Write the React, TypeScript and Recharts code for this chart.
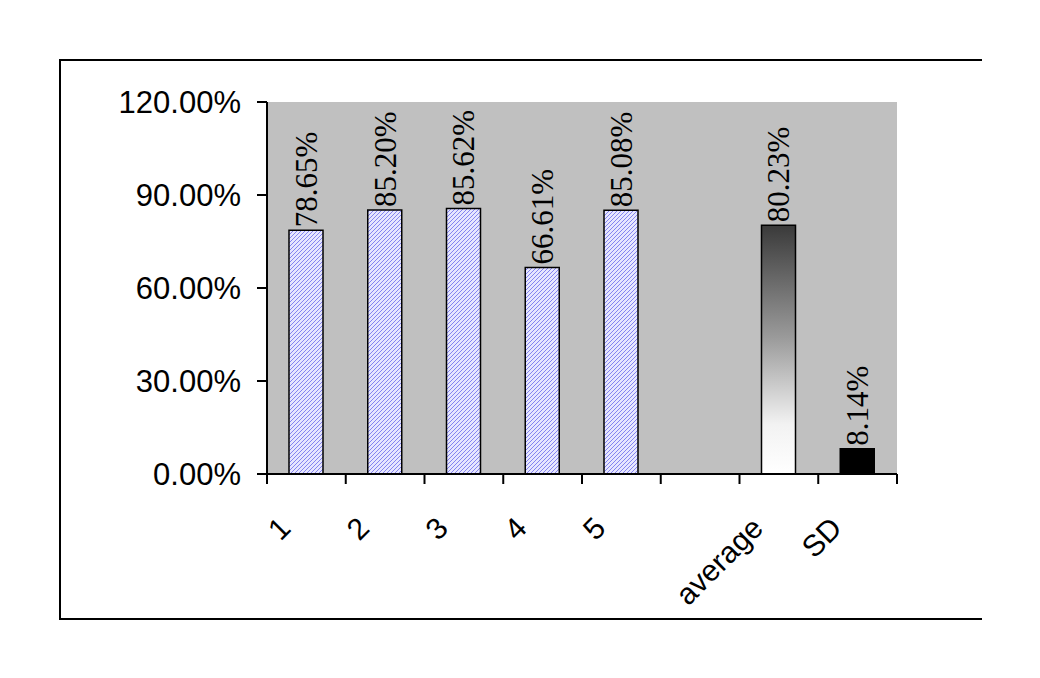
import React from "react";
import {
  BarChart,
  Bar,
  Cell,
  CartesianGrid,
  LabelList,
  XAxis,
  YAxis,
} from "recharts";

// categories along the bottom; the blank one is the gap before the summary bars
const CATEGORIES = ["1", "2", "3", "4", "5", "", "average", "SD"];
// percent values (blank slot has no bar)
const VALUES: (number | null)[] = [78.65, 85.2, 85.62, 66.61, 85.08, null, 80.23, 8.14];
const Y_TICKS = [0, 30, 60, 90, 120];

const data = CATEGORIES.map((name, i) => ({ name, value: VALUES[i] }));

const W = 1040;
const H = 678;
const PLOT_LEFT = 267;
const PLOT_RIGHT = 897;
const PLOT_TOP = 102;
const PLOT_BOTTOM = 474;
const BAND = (PLOT_RIGHT - PLOT_LEFT) / CATEGORIES.length;

const SANS = '"Liberation Sans", Arial, sans-serif';
// no serif face in the sandbox, so the data labels fall back to a sans face
const LABEL_FONT = '"Liberation Serif", "Liberation Sans", Arial, sans-serif';

function fillFor(i: number) {
  if (CATEGORIES[i] === "average") return "url(#avgGrad)";
  if (CATEGORIES[i] === "SD") return "#000000";
  return "url(#hatch)";
}

// tick marks sit on the band boundaries, labels tilted 45° under each band
function XTick(props: any) {
  const { x, y, payload, index } = props;
  const left = x - BAND / 2;
  const isLast = index === CATEGORIES.length - 1;
  const ax = x - 14;
  const ay = y + 56;
  return (
    <g>
      <line x1={left} y1={y} x2={left} y2={y + 10} stroke="#000" strokeWidth={2} />
      {isLast && (
        <line x1={x + BAND / 2} y1={y} x2={x + BAND / 2} y2={y + 10} stroke="#000" strokeWidth={2} />
      )}
      <text
        x={ax}
        y={ay}
        textAnchor="end"
        transform={`rotate(-45, ${ax}, ${ay})`}
        style={{ fontFamily: SANS, fontSize: 30, fill: "#000" }}
      >
        {payload.value}
      </text>
    </g>
  );
}

function ValueLabel(props: any) {
  const { x, y, width, value } = props;
  if (value == null) return null;
  const cx = x + width / 2 + 11;
  const ty = y - 3;
  return (
    <text
      x={cx}
      y={ty}
      textAnchor="start"
      transform={`rotate(-90, ${cx}, ${ty})`}
      style={{ fontFamily: LABEL_FONT, fontSize: 31, fill: "#000" }}
    >
      {`${Number(value).toFixed(2)}%`}
    </text>
  );
}

export default function App() {
  return (
    <div style={{ position: "absolute", left: 0, top: 0, width: W, height: H, background: "#fff" }}>
      <div
        style={{
          position: "absolute",
          left: 59,
          top: 59,
          width: 921,
          height: 557,
          borderTop: "2px solid #000",
          borderLeft: "2px solid #000",
          borderBottom: "2px solid #000",
        }}
      />
      <div style={{ position: "absolute", left: 0, top: 0 }}>
        <BarChart
          width={W}
          height={H}
          data={data}
          margin={{ top: PLOT_TOP, right: W - PLOT_RIGHT, bottom: 0, left: 0 }}
          barSize={34}
        >
          <defs>
            <pattern id="hatch" width="4" height="4" patternUnits="userSpaceOnUse">
              <rect width="4" height="4" fill="#e6e6ff" />
              <path d="M-1,1 l2,-2 M0,4 l4,-4 M3,5 l2,-2" stroke="#8484f0" strokeWidth={1} />
            </pattern>
            <linearGradient id="avgGrad" x1="0" y1="0" x2="0" y2="1">
              <stop offset="0%" stopColor="#3a3a3a" />
              <stop offset="45%" stopColor="#9a9a9a" />
              <stop offset="80%" stopColor="#f2f2f2" />
              <stop offset="100%" stopColor="#ffffff" />
            </linearGradient>
          </defs>
          <CartesianGrid fill="#c0c0c0" stroke="none" horizontal={false} vertical={false} />
          <XAxis
            dataKey="name"
            xAxisId="main"
            height={H - PLOT_BOTTOM}
            axisLine={{ stroke: "#000", strokeWidth: 2 }}
            tickLine={false}
            tickSize={0}
            tickMargin={0}
            interval={0}
            tick={<XTick />}
          />
          <XAxis
            xAxisId="top"
            orientation="top"
            dataKey="name"
            height={0}
            tick={false}
            tickLine={false}
            axisLine={{ stroke: "#888", strokeWidth: 2 }}
          />
          <YAxis
            yAxisId="main"
            width={PLOT_LEFT}
            domain={[0, 120]}
            ticks={Y_TICKS}
            tickFormatter={(v: number) => `${v.toFixed(2)}%`}
            axisLine={{ stroke: "#000", strokeWidth: 2 }}
            tickLine={{ stroke: "#000", strokeWidth: 2 }}
            tickSize={10}
            tickMargin={16}
            tick={{ fill: "#000", fontSize: 31, fontFamily: SANS }}
          />
          <YAxis
            yAxisId="right"
            orientation="right"
            width={0}
            domain={[0, 120]}
            tick={false}
            tickLine={false}
            axisLine={{ stroke: "#888", strokeWidth: 2 }}
          />
          <Bar
            dataKey="value"
            xAxisId="main"
            yAxisId="main"
            stroke="#000"
            strokeWidth={1.5}
            isAnimationActive={false}
          >
            {data.map((d, i) => (
              <Cell key={i} fill={fillFor(i)} />
            ))}
            <LabelList dataKey="value" content={<ValueLabel />} />
          </Bar>
        </BarChart>
      </div>
    </div>
  );
}
